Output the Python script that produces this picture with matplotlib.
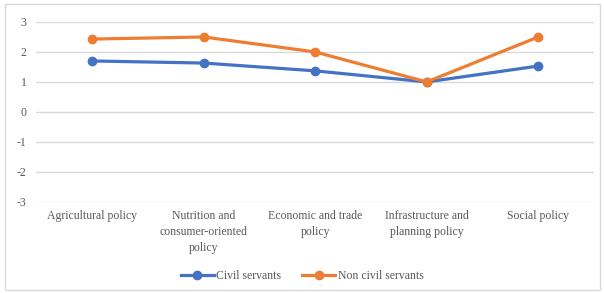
import matplotlib.pyplot as plt
from matplotlib.patches import Rectangle

categories = ["Agricultural policy", "Nutrition and\nconsumer-oriented\npolicy",
              "Economic and trade\npolicy", "Infrastructure and\nplanning policy",
              "Social policy"]
civil = [1.70, 1.63, 1.37, 1.00, 1.53]
non_civil = [2.43, 2.50, 2.00, 1.00, 2.50]
yticks = [-3, -2, -1, 0, 1, 2, 3]

plt.rcParams['font.family'] = ['Liberation Serif', 'DejaVu Serif']

fig = plt.figure(figsize=(6.04, 2.93), dpi=100)
fig.patches.append(Rectangle((0.008, 0.01), 0.985, 0.978, transform=fig.transFigure,
                             fill=False, edgecolor="#d9d9d9", linewidth=1))
ax = fig.add_axes([0.0604, 0.311, 0.923, 0.614])

x = list(range(len(categories)))
ax.plot(x, civil, color="#4472C4", lw=2.3, marker="o", ms=6, label="Civil servants")
ax.plot(x, non_civil, color="#ED7D31", lw=2.3, marker="o", ms=6, label="Non civil servants")

ax.set_xlim(-0.5, len(categories) - 0.5)
ax.set_ylim(-3, 3)
ax.set_yticks(yticks)
ax.set_yticklabels([str(v) for v in yticks])
ax.set_xticks(x)
ax.set_xticklabels(categories, linespacing=1.45)
ax.tick_params(length=0, labelsize=8.5, colors="#595959", pad=6)
ax.tick_params(axis="y", pad=7)
ax.grid(axis="y", color="#d9d9d9", lw=1)
ax.set_axisbelow(True)
for s in ax.spines.values():
    s.set_visible(False)

fig.legend(loc="center", bbox_to_anchor=(0.5, 0.058), ncol=2, frameon=False,
           fontsize=8.5, handlelength=2.8, handletextpad=0.2, columnspacing=1.8,
           labelcolor="#595959")

fig.savefig("out.png", dpi=100)
